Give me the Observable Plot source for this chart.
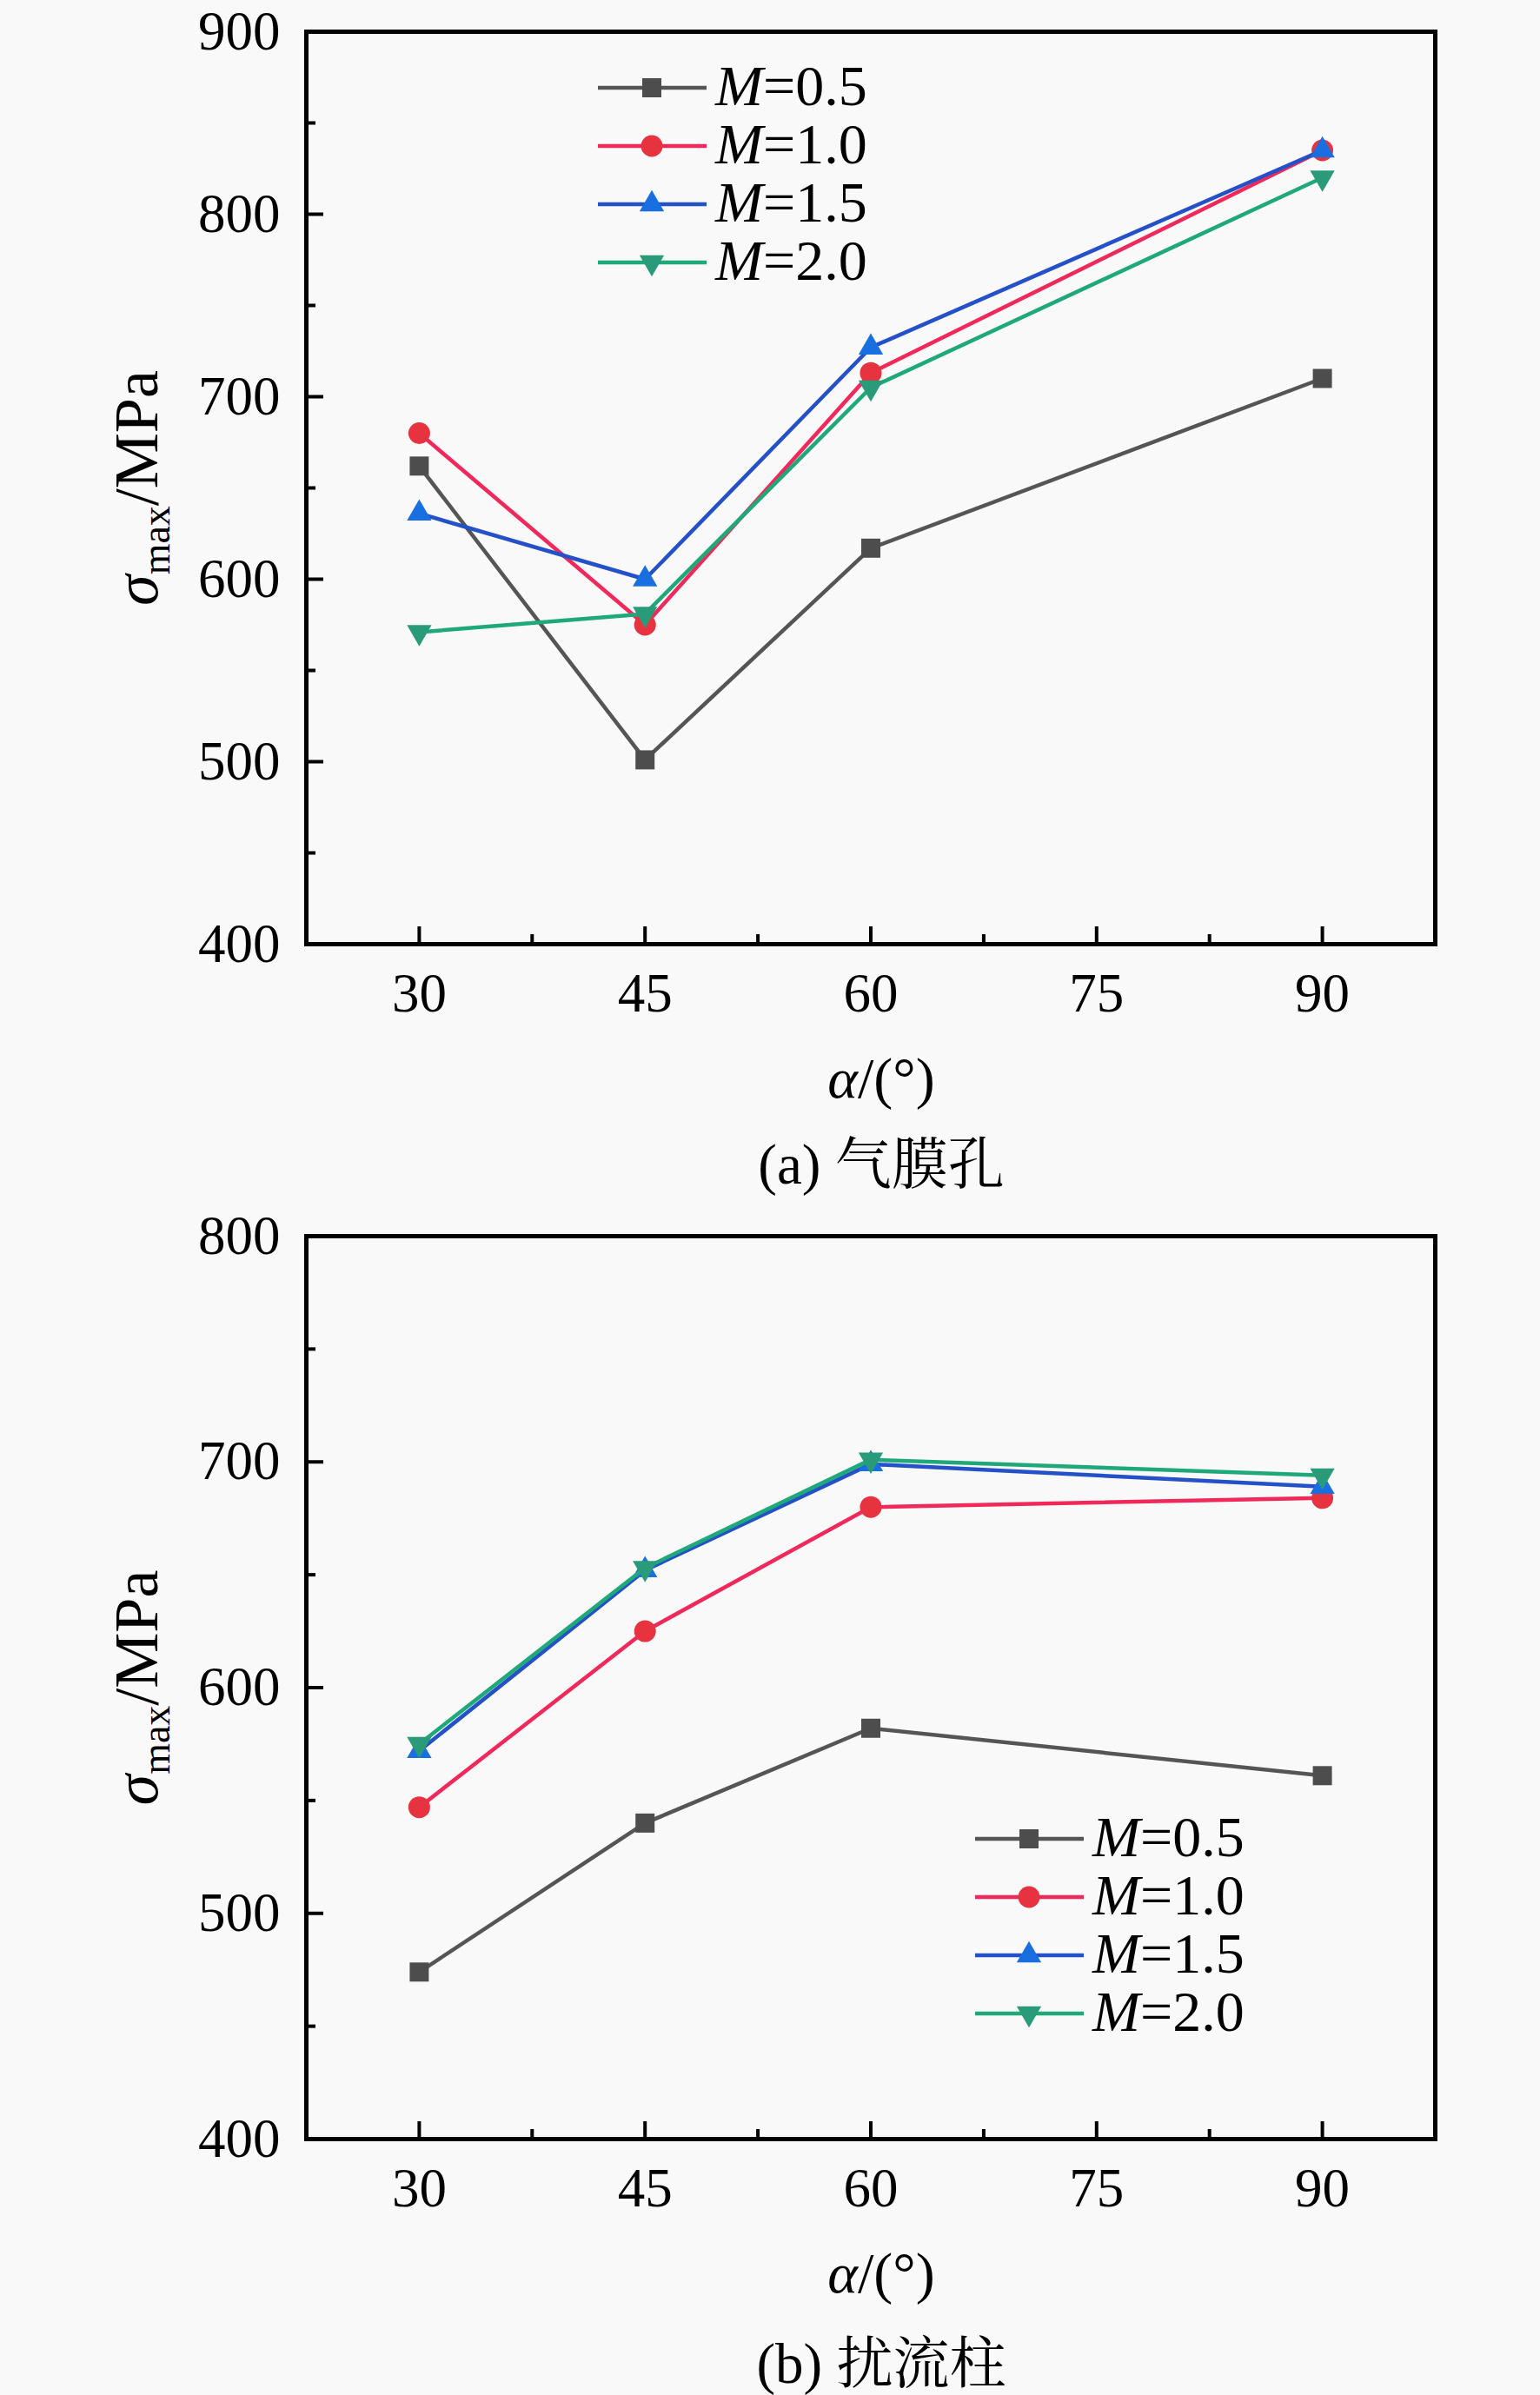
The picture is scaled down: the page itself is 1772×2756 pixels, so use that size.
<!DOCTYPE html>
<html><head><meta charset="utf-8">
<script src="https://cdn.jsdelivr.net/npm/d3@7"></script>
<script src="https://cdn.jsdelivr.net/npm/@observablehq/plot@0.6"></script>
<style>
html,body{margin:0;padding:0;background:#f9f9f9;overflow:hidden}
#wrap{position:relative;width:1772px;height:2756px;}
.panel{position:absolute;left:0}
.cap{position:absolute;transform:translateX(-50%);font-family:"Liberation Serif","Noto Serif CJK SC","Noto Sans CJK SC",serif;font-size:65px;line-height:65px;white-space:nowrap;color:#000}
</style></head><body><div id="wrap"></div>
<script>
// ---- data ----
const angles = [30, 45, 60, 90];
const seriesLabels = ["0.5", "1.0", "1.5", "2.0"];
// (a) film holes
const a_M05 = [662, 501, 617, 710];
const a_M10 = [680, 575, 713, 835];
const a_M15 = [636, 600, 727, 835];
const a_M20 = [571, 581, 705, 820];
// (b) pin fins
const b_M05 = [474, 540, 582, 561];
const b_M10 = [547, 625, 680, 684];
const b_M15 = [572, 652, 699, 689];
const b_M20 = [575, 653, 701, 694];
// ticks
const xTicks = [30, 45, 60, 75, 90];
const xMinor = [37.5, 52.5, 67.5, 82.5];
const yTicksA = [400, 500, 600, 700, 800, 900];
const yMinorA = [450, 550, 650, 750, 850];
const yTicksB = [400, 500, 600, 700, 800];
const yMinorB = [450, 550, 650, 750];
const captions = ["(a) 气膜孔", "(b) 扰流柱"];

// ---- styles ----
const lineColors = ["#555555", "#f0295a", "#2450c8", "#1fa87a"];
const markerColors = ["#4d4d4d", "#e6333f", "#1a6fe0", "#2a9b78"];
const symbols = ["square", "circle", "triangle", "triangle"];
const rotates = [0, 0, 0, 180];
const radii = [12.4, 12.5, 10.5, 10.5];
const SERIF = "'Liberation Serif', 'Times New Roman', serif";
const NS = "http://www.w3.org/2000/svg";

function el(name, attrs, parent) {
  const e = document.createElementNS(NS, name);
  for (const k in attrs) e.setAttribute(k, attrs[k]);
  if (parent) parent.appendChild(e);
  return e;
}

function makePanel(series, yDomain, yTicks, yMinor, marginTop, height, legendPos) {
  const marks = [
    Plot.axisX({ticks: xTicks, tickSize: -20, strokeWidth: 4, fill: "none", label: null}),
    Plot.axisX({ticks: xMinor, tickSize: -11, strokeWidth: 4, fill: "none", label: null}),
    Plot.axisX({ticks: xTicks, tickSize: 0, tickPadding: 33, label: null, fontSize: 63}),
    Plot.axisY({ticks: yTicks, tickSize: -20, strokeWidth: 4, fill: "none", label: null}),
    Plot.axisY({ticks: yMinor, tickSize: -11, strokeWidth: 4, fill: "none", label: null}),
    Plot.axisY({ticks: yTicks, tickSize: 0, tickPadding: 30, label: null, fontSize: 63}),
    Plot.frame({stroke: "#000", strokeWidth: 5})
  ];
  series.forEach((vals, s) => {
    const data = angles.map((a, i) => ({alpha: a, sigma: vals[i]}));
    marks.push(Plot.line(data, {x: "alpha", y: "sigma", stroke: lineColors[s], strokeWidth: 4.5}));
    marks.push(Plot.dot(data, {x: "alpha", y: "sigma", fill: markerColors[s], stroke: "none",
      symbol: symbols[s], r: radii[s], rotate: rotates[s]}));
  });
  marks.push(Plot.text(["σmax/MPa"], {frameAnchor: "left", dx: -172, rotate: -90, textAnchor: "middle", lineAnchor: "bottom", fontSize: 72}));
  marks.push(Plot.text(["α/(°)"], {frameAnchor: "bottom", dx: 12, dy: 176, textAnchor: "middle", lineAnchor: "bottom", fontSize: 66}));

  const svg = Plot.plot({
    width: 1772, height,
    marginTop, marginBottom: 204, marginLeft: 352, marginRight: 121,
    style: {background: "#f9f9f9", fontFamily: SERIF, fontSize: "63px", color: "#000", overflow: "visible"},
    x: {domain: [22.5, 97.5]},
    y: {domain: yDomain},
    marks
  });

  // rich text labels
  svg.querySelectorAll("text").forEach(t => {
    if (t.textContent === "σmax/MPa") {
      t.textContent = "";
      el("tspan", {"font-style": "italic"}, t).textContent = "σ";
      el("tspan", {"font-size": "46", dy: "14"}, t).textContent = "max";
      el("tspan", {dy: "-14"}, t).textContent = "/MPa";
    } else if (t.textContent === "α/(°)") {
      t.textContent = "";
      el("tspan", {"font-style": "italic"}, t).textContent = "α";
      el("tspan", {}, t).textContent = "/(°)";
    }
  });

  // legend
  const g = el("g", {"font-family": SERIF, "font-size": "66", "text-anchor": "start"}, svg);
  seriesLabels.forEach((lab, s) => {
    const y = legendPos.y0 + s * legendPos.dy;
    el("line", {x1: legendPos.x1, x2: legendPos.x2, y1: y, y2: y, stroke: lineColors[s], "stroke-width": 4.5}, g);
    const symType = {square: d3.symbolSquare, circle: d3.symbolCircle, triangle: d3.symbolTriangle}[symbols[s]];
    const r = radii[s];
    const size = Math.PI * r * r;
    el("path", {d: d3.symbol(symType, size)(), fill: markerColors[s],
      transform: `translate(${legendPos.xm},${y}) rotate(${rotates[s]})`}, g);
    const t = el("text", {x: legendPos.xt, y, dy: "0.3em", fill: "#000", "text-anchor": "start"}, g);
    el("tspan", {"font-style": "italic"}, t).textContent = "M";
    el("tspan", {}, t).textContent = "=" + lab;
  });
  return svg;
}

const wrap = document.getElementById("wrap");

const p1 = makePanel([a_M05, a_M10, a_M15, a_M20], [400, 900], yTicksA, yMinorA, 36, 1290,
  {x1: 688, x2: 813, xm: 750, xt: 823, y0: 101, dy: 67});
const d1 = document.createElement("div"); d1.className = "panel"; d1.style.top = "0px";
d1.appendChild(p1); wrap.appendChild(d1);

const c1 = document.createElement("div"); c1.className = "cap";
c1.style.left = "1014px"; c1.style.top = "1308px"; c1.textContent = captions[0];
wrap.appendChild(c1);

const p2 = makePanel([b_M05, b_M10, b_M15, b_M20], [400, 800], yTicksB, yMinorB, 42, 1285,
  {x1: 1122, x2: 1247, xm: 1184, xt: 1257, y0: 736, dy: 67});
const d2 = document.createElement("div"); d2.className = "panel"; d2.style.top = "1380px";
d2.appendChild(p2); wrap.appendChild(d2);

const c2 = document.createElement("div"); c2.className = "cap";
c2.style.left = "1014px"; c2.style.top = "2688px"; c2.textContent = captions[1];
wrap.appendChild(c2);
</script>
</body></html>
